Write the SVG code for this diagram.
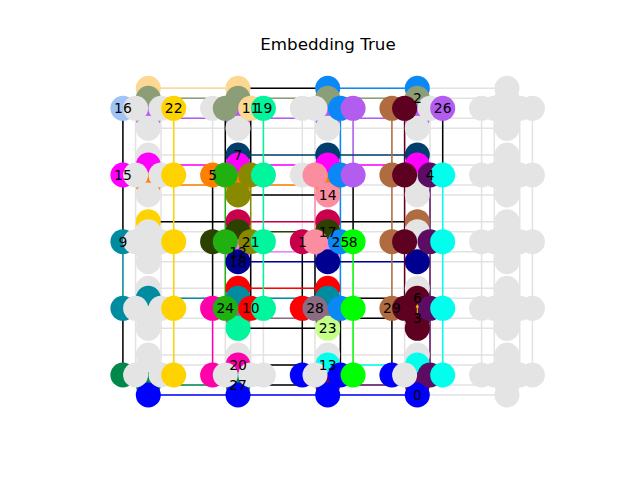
<svg xmlns="http://www.w3.org/2000/svg" width="640" height="480" viewBox="0 0 640 480">
<style>
circle{stroke:none}
.G{fill:#e4e4e4}.pe{fill:#fdd892}.gg{fill:#8c9e78}.lb{fill:#a0c4f5}.go{fill:#ffd300}.sp{fill:#00f59c}.nv{fill:#003f6d}.mg{fill:#ff00ff}.or{fill:#ff8000}.gr{fill:#20b010}.ol{fill:#898900}.pk{fill:#fa8ea0}.az{fill:#0a88f5}.pu{fill:#b25cf0}.br{fill:#b06c40}.ma{fill:#5e0020}.dp{fill:#5c0c62}.cy{fill:#00ffec}.te{fill:#008ca0}.cr{fill:#c8004c}.do{fill:#2c4000}.vi{fill:#ee82ee}.db{fill:#000090}.g8{fill:#00ff00}.rd{fill:#ff0000}.hp{fill:#ff00aa}.mv{fill:#8c6c82}.lg{fill:#c4ff88}.dg{fill:#00884a}.bl{fill:#0000ff}
.e{fill:none;stroke-width:1.5}
.lbl{font-family:"DejaVu Sans",sans-serif;font-size:13.9px;text-anchor:middle;fill:#000}
</style>
<rect width="640" height="480" fill="#fff"/>
<text x="328" y="49.5" font-family="DejaVu Sans, sans-serif" font-size="16.7" text-anchor="middle">Embedding True</text>
<g id="edges">
<path class="e" stroke="#e2e2e2" d="M148.3 88.3H507M148.3 98.3H507M148.3 118.3H507M148.3 128.3H507M148.3 155H507M148.3 165H507M148.3 185H507M148.3 195H507M148.3 221.7H507M148.3 231.7H507M148.3 251.7H507M148.3 261.7H507M148.3 288.3H507M148.3 298.3H507M148.3 318.3H507M148.3 328.3H507M148.3 355H507M148.3 365H507M148.3 385H507M148.3 395H507
M122.9 108.3V375M135.6 108.3V375M161 108.3V375M173.7 108.3V375M212.6 108.3V375M225.3 108.3V375M250.7 108.3V375M263.4 108.3V375M302.3 108.3V375M315 108.3V375M340.4 108.3V375M353.1 108.3V375M391.9 108.3V375M404.6 108.3V375M430 108.3V375M442.7 108.3V375M481.6 108.3V375M494.3 108.3V375M519.7 108.3V375M532.4 108.3V375"/>
<path class="e" stroke="#000" stroke-width="1.3" d="M238 88.3H327.7M238 195H327.7M148.3 221.7H238M327.7 221.7H417.3M327.7 298.3H417.3M327.7 318.3H417.3M238 328.3H327.7M238 365H327.7M238 385H327.7
M122.9 108.3V241.7M122.9 308.3V375M212.6 175V308.3M225.3 108.3V175M250.7 108.3V175M250.7 241.7V308.3M302.3 241.7V375M315 241.7V308.3M340.4 308.3V375M353.1 175V241.7M391.9 308.3V375M442.7 108.3V175"/>
<path class="e" stroke="#fdd892" d="M148.3 88.3H238"/>
<path class="e" stroke="#0a88f5" d="M327.7 88.3H417.3M340.4 108.3V308.3"/>
<path class="e" stroke="#8c9e78" d="M148.3 98.3H417.3"/>
<path class="e" stroke="#b25cf0" d="M148.3 118.3H417.3M353.1 108.3V175"/>
<path class="e" stroke="#003f6d" d="M238 155H417.3"/>
<path class="e" stroke="#ff00ff" d="M148.3 165H417.3"/>
<path class="e" stroke="#ff8000" d="M148.3 185H327.7"/>
<path class="e" stroke="#c8004c" d="M238 221.7H327.7"/>
<path class="e" stroke="#2c4000" d="M238 231.7H327.7"/>
<path class="e" stroke="#ee82ee" d="M238 251.7H327.7"/>
<path class="e" stroke="#000090" d="M238 261.7H417.3"/>
<path class="e" stroke="#ff0000" d="M238 288.3H327.7"/>
<path class="e" stroke="#008ca0" d="M148.3 298.3H327.7M122.9 241.7V308.3"/>
<path class="e" stroke="#8c6c82" d="M238 318.3H327.7"/>
<path class="e" stroke="#00ffec" d="M327.7 365H417.3M442.7 175V375"/>
<path class="e" stroke="#00884a" d="M148.3 385H238"/>
<path class="e" stroke="#5c0c62" d="M327.7 385H417.3M430 175V375"/>
<path class="e" stroke="#0000ff" d="M148.3 395H417.3"/>
<path class="e" stroke="#ffd300" d="M173.7 108.3V375"/>
<path class="e" stroke="#ff00aa" d="M212.6 308.3V375"/>
<path class="e" stroke="#20b010" d="M225.3 175V308.3"/>
<path class="e" stroke="#898900" d="M250.7 175V241.7"/>
<path class="e" stroke="#00f59c" d="M263.4 108.3V308.3"/>
<path class="e" stroke="#fa8ea0" d="M315 175V241.7"/>
<path class="e" stroke="#00ff00" d="M353.1 241.7V375"/>
<path class="e" stroke="#b06c40" d="M391.9 108.3V308.3"/>
<path class="e" stroke="#5e0020" d="M404.6 108.3V308.3"/>
</g>
<g id="nodes">
<!-- c0 -->
<g id="n_0_0_u2"><circle class="pe" cx="148.3" cy="88.3" r="12.5"/></g>
<g id="n_0_0_u1"><circle class="gg" cx="148.3" cy="98.3" r="12.5"/></g>
<g id="n_0_0_d1"><circle class="pu" cx="148.3" cy="118.3" r="12.5"/></g>
<g id="n_0_0_d2"><circle class="G" cx="148.3" cy="128.3" r="12.5"/></g>
<g id="node16"><circle class="lb" cx="122.9" cy="108.3" r="12.5"/></g>
<g id="n_0_0_l1"><circle class="G" cx="135.6" cy="108.3" r="12.5"/></g>
<g id="n_0_0_r1"><circle class="G" cx="161" cy="108.3" r="12.5"/></g>
<g id="node22"><circle class="go" cx="173.7" cy="108.3" r="12.5"/></g>

<g id="n_0_1_u2"><circle class="G" cx="148.3" cy="155" r="12.5"/></g>
<g id="n_0_1_u1"><circle class="mg" cx="148.3" cy="165" r="12.5"/></g>
<g id="n_0_1_d1"><circle class="or" cx="148.3" cy="185" r="12.5"/></g>
<g id="n_0_1_d2"><circle class="G" cx="148.3" cy="195" r="12.5"/></g>
<g id="node15"><circle class="mg" cx="122.9" cy="175" r="12.5"/></g>
<g id="n_0_1_l1"><circle class="G" cx="135.6" cy="175" r="12.5"/></g>
<g id="n_0_1_r1"><circle class="G" cx="161" cy="175" r="12.5"/></g>
<g id="n_0_1_r2"><circle class="go" cx="173.7" cy="175" r="12.5"/></g>

<g id="n_0_2_u2"><circle class="go" cx="148.3" cy="221.7" r="12.5"/></g>
<g id="n_0_2_u1"><circle class="G" cx="148.3" cy="231.7" r="12.5"/></g>
<g id="n_0_2_d1"><circle class="G" cx="148.3" cy="251.7" r="12.5"/></g>
<g id="n_0_2_d2"><circle class="G" cx="148.3" cy="261.7" r="12.5"/></g>
<g id="node9"><circle class="te" cx="122.9" cy="241.7" r="12.5"/></g>
<g id="n_0_2_l1"><circle class="G" cx="135.6" cy="241.7" r="12.5"/></g>
<g id="n_0_2_r1"><circle class="G" cx="161" cy="241.7" r="12.5"/></g>
<g id="n_0_2_r2"><circle class="go" cx="173.7" cy="241.7" r="12.5"/></g>

<g id="n_0_3_u2"><circle class="G" cx="148.3" cy="288.3" r="12.5"/></g>
<g id="n_0_3_u1"><circle class="te" cx="148.3" cy="298.3" r="12.5"/></g>
<g id="n_0_3_d1"><circle class="G" cx="148.3" cy="318.3" r="12.5"/></g>
<g id="n_0_3_d2"><circle class="G" cx="148.3" cy="328.3" r="12.5"/></g>
<g id="n_0_3_l2"><circle class="te" cx="122.9" cy="308.3" r="12.5"/></g>
<g id="n_0_3_l1"><circle class="G" cx="135.6" cy="308.3" r="12.5"/></g>
<g id="n_0_3_r1"><circle class="G" cx="161" cy="308.3" r="12.5"/></g>
<g id="n_0_3_r2"><circle class="go" cx="173.7" cy="308.3" r="12.5"/></g>

<g id="n_0_4_u2"><circle class="G" cx="148.3" cy="355" r="12.5"/></g>
<g id="n_0_4_u1"><circle class="G" cx="148.3" cy="365" r="12.5"/></g>
<g id="n_0_4_d1"><circle class="dg" cx="148.3" cy="385" r="12.5"/></g>
<g id="n_0_4_d2"><circle class="bl" cx="148.3" cy="395" r="12.5"/></g>
<g id="n_0_4_l2"><circle class="dg" cx="122.9" cy="375" r="12.5"/></g>
<g id="n_0_4_l1"><circle class="G" cx="135.6" cy="375" r="12.5"/></g>
<g id="n_0_4_r1"><circle class="G" cx="161" cy="375" r="12.5"/></g>
<g id="n_0_4_r2"><circle class="go" cx="173.7" cy="375" r="12.5"/></g>
<!-- c1 -->
<g id="n_1_0_u2"><circle class="pe" cx="238" cy="88.3" r="12.5"/></g>
<g id="n_1_0_u1"><circle class="gg" cx="238" cy="98.3" r="12.5"/></g>
<g id="n_1_0_d1"><circle class="pu" cx="238" cy="118.3" r="12.5"/></g>
<g id="n_1_0_d2"><circle class="G" cx="238" cy="128.3" r="12.5"/></g>
<g id="n_1_0_l2"><circle class="G" cx="212.6" cy="108.3" r="12.5"/></g>
<g id="n_1_0_l1"><circle class="gg" cx="225.3" cy="108.3" r="12.5"/></g>
<g id="node11"><circle class="pe" cx="250.7" cy="108.3" r="12.5"/></g>
<g id="node19"><circle class="sp" cx="263.4" cy="108.3" r="12.5"/></g>

<g id="node7"><circle class="nv" cx="238" cy="155" r="12.5"/></g>
<g id="n_1_1_u1"><circle class="mg" cx="238" cy="165" r="12.5"/></g>
<g id="n_1_1_d1"><circle class="or" cx="238" cy="185" r="12.5"/></g>
<g id="n_1_1_d2"><circle class="ol" cx="238" cy="195" r="12.5"/></g>
<g id="node5"><circle class="or" cx="212.6" cy="175" r="12.5"/></g>
<g id="n_1_1_l1"><circle class="gr" cx="225.3" cy="175" r="12.5"/></g>
<g id="n_1_1_r1"><circle class="ol" cx="250.7" cy="175" r="12.5"/></g>
<g id="n_1_1_r2"><circle class="sp" cx="263.4" cy="175" r="12.5"/></g>

<g id="n_1_2_u2"><circle class="cr" cx="238" cy="221.7" r="12.5"/></g>
<g id="n_1_2_u1"><circle class="do" cx="238" cy="231.7" r="12.5"/></g>
<g id="node12"><circle class="vi" cx="238" cy="251.7" r="12.5"/></g>
<g id="node18"><circle class="db" cx="238" cy="261.7" r="12.5"/></g>
<g id="n_1_2_l2"><circle class="do" cx="212.6" cy="241.7" r="12.5"/></g>
<g id="n_1_2_l1"><circle class="gr" cx="225.3" cy="241.7" r="12.5"/></g>
<g id="node21"><circle class="ol" cx="250.7" cy="241.7" r="12.5"/></g>
<g id="n_1_2_r2"><circle class="sp" cx="263.4" cy="241.7" r="12.5"/></g>

<g id="n_1_3_u2"><circle class="rd" cx="238" cy="288.3" r="12.5"/></g>
<g id="n_1_3_u1"><circle class="te" cx="238" cy="298.3" r="12.5"/></g>
<g id="n_1_3_d1"><circle class="mv" cx="238" cy="318.3" r="12.5"/></g>
<g id="n_1_3_d2"><circle class="sp" cx="238" cy="328.3" r="12.5"/></g>
<g id="n_1_3_l2"><circle class="hp" cx="212.6" cy="308.3" r="12.5"/></g>
<g id="node24"><circle class="gr" cx="225.3" cy="308.3" r="12.5"/></g>
<g id="node10"><circle class="rd" cx="250.7" cy="308.3" r="12.5"/></g>
<g id="n_1_3_r2"><circle class="sp" cx="263.4" cy="308.3" r="12.5"/></g>

<g id="n_1_4_u2"><circle class="G" cx="238" cy="355" r="12.5"/></g>
<g id="node20"><circle class="hp" cx="238" cy="365" r="12.5"/></g>
<g id="node27"><circle class="dg" cx="238" cy="385" r="12.5"/></g>
<g id="n_1_4_d2"><circle class="bl" cx="238" cy="395" r="12.5"/></g>
<g id="n_1_4_l2"><circle class="hp" cx="212.6" cy="375" r="12.5"/></g>
<g id="n_1_4_l1"><circle class="G" cx="225.3" cy="375" r="12.5"/></g>
<g id="n_1_4_r1"><circle class="G" cx="250.7" cy="375" r="12.5"/></g>
<g id="n_1_4_r2"><circle class="G" cx="263.4" cy="375" r="12.5"/></g>
<!-- c2 -->
<g id="n_2_0_u2"><circle class="az" cx="327.7" cy="88.3" r="12.5"/></g>
<g id="n_2_0_u1"><circle class="gg" cx="327.7" cy="98.3" r="12.5"/></g>
<g id="n_2_0_d1"><circle class="pu" cx="327.7" cy="118.3" r="12.5"/></g>
<g id="n_2_0_d2"><circle class="G" cx="327.7" cy="128.3" r="12.5"/></g>
<g id="n_2_0_l2"><circle class="G" cx="302.3" cy="108.3" r="12.5"/></g>
<g id="n_2_0_l1"><circle class="G" cx="315" cy="108.3" r="12.5"/></g>
<g id="n_2_0_r1"><circle class="az" cx="340.4" cy="108.3" r="12.5"/></g>
<g id="n_2_0_r2"><circle class="pu" cx="353.1" cy="108.3" r="12.5"/></g>

<g id="n_2_1_u2"><circle class="nv" cx="327.7" cy="155" r="12.5"/></g>
<g id="n_2_1_u1"><circle class="mg" cx="327.7" cy="165" r="12.5"/></g>
<g id="n_2_1_d1"><circle class="or" cx="327.7" cy="185" r="12.5"/></g>
<g id="node14"><circle class="pk" cx="327.7" cy="195" r="12.5"/></g>
<g id="n_2_1_l2"><circle class="G" cx="302.3" cy="175" r="12.5"/></g>
<g id="n_2_1_l1"><circle class="pk" cx="315" cy="175" r="12.5"/></g>
<g id="n_2_1_r1"><circle class="az" cx="340.4" cy="175" r="12.5"/></g>
<g id="n_2_1_r2"><circle class="pu" cx="353.1" cy="175" r="12.5"/></g>

<g id="n_2_2_u2"><circle class="cr" cx="327.7" cy="221.7" r="12.5"/></g>
<g id="node17"><circle class="do" cx="327.7" cy="231.7" r="12.5"/></g>
<g id="n_2_2_d1"><circle class="vi" cx="327.7" cy="251.7" r="12.5"/></g>
<g id="n_2_2_d2"><circle class="db" cx="327.7" cy="261.7" r="12.5"/></g>
<g id="node1"><circle class="cr" cx="302.3" cy="241.7" r="12.5"/></g>
<g id="n_2_2_l1"><circle class="pk" cx="315" cy="241.7" r="12.5"/></g>
<g id="node25"><circle class="az" cx="340.4" cy="241.7" r="12.5"/></g>
<g id="node8"><circle class="g8" cx="353.1" cy="241.7" r="12.5"/></g>

<g id="n_2_3_u2"><circle class="rd" cx="327.7" cy="288.3" r="12.5"/></g>
<g id="n_2_3_u1"><circle class="te" cx="327.7" cy="298.3" r="12.5"/></g>
<g id="n_2_3_d1"><circle class="mv" cx="327.7" cy="318.3" r="12.5"/></g>
<g id="node23"><circle class="lg" cx="327.7" cy="328.3" r="12.5"/></g>
<g id="n_2_3_l2"><circle class="rd" cx="302.3" cy="308.3" r="12.5"/></g>
<g id="node28"><circle class="mv" cx="315" cy="308.3" r="12.5"/></g>
<g id="n_2_3_r1"><circle class="az" cx="340.4" cy="308.3" r="12.5"/></g>
<g id="n_2_3_r2"><circle class="g8" cx="353.1" cy="308.3" r="12.5"/></g>

<g id="n_2_4_u2"><circle class="G" cx="327.7" cy="355" r="12.5"/></g>
<g id="node13"><circle class="cy" cx="327.7" cy="365" r="12.5"/></g>
<g id="n_2_4_d1"><circle class="dp" cx="327.7" cy="385" r="12.5"/></g>
<g id="n_2_4_d2"><circle class="bl" cx="327.7" cy="395" r="12.5"/></g>
<g id="n_2_4_l2"><circle class="bl" cx="302.3" cy="375" r="12.5"/></g>
<g id="n_2_4_l1"><circle class="G" cx="315" cy="375" r="12.5"/></g>
<g id="n_2_4_r1"><circle class="bl" cx="340.4" cy="375" r="12.5"/></g>
<g id="n_2_4_r2"><circle class="g8" cx="353.1" cy="375" r="12.5"/></g>
<!-- c3 -->
<g id="n_3_0_u2"><circle class="az" cx="417.3" cy="88.3" r="12.5"/></g>
<g id="node2"><circle class="gg" cx="417.3" cy="98.3" r="12.5"/></g>
<g id="n_3_0_d1"><circle class="pu" cx="417.3" cy="118.3" r="12.5"/></g>
<g id="n_3_0_d2"><circle class="G" cx="417.3" cy="128.3" r="12.5"/></g>
<g id="n_3_0_l2"><circle class="br" cx="391.9" cy="108.3" r="12.5"/></g>
<g id="n_3_0_l1"><circle class="ma" cx="404.6" cy="108.3" r="12.5"/></g>
<g id="n_3_0_r1"><circle class="G" cx="430" cy="108.3" r="12.5"/></g>
<g id="node26"><circle class="pu" cx="442.7" cy="108.3" r="12.5"/></g>

<g id="n_3_1_u2"><circle class="nv" cx="417.3" cy="155" r="12.5"/></g>
<g id="n_3_1_u1"><circle class="mg" cx="417.3" cy="165" r="12.5"/></g>
<g id="n_3_1_d1"><circle class="G" cx="417.3" cy="185" r="12.5"/></g>
<g id="n_3_1_d2"><circle class="G" cx="417.3" cy="195" r="12.5"/></g>
<g id="n_3_1_l2"><circle class="br" cx="391.9" cy="175" r="12.5"/></g>
<g id="n_3_1_l1"><circle class="ma" cx="404.6" cy="175" r="12.5"/></g>
<g id="node4"><circle class="dp" cx="430" cy="175" r="12.5"/></g>
<g id="n_3_1_r2"><circle class="cy" cx="442.7" cy="175" r="12.5"/></g>

<g id="n_3_2_u2"><circle class="br" cx="417.3" cy="221.7" r="12.5"/></g>
<g id="n_3_2_u1"><circle class="G" cx="417.3" cy="231.7" r="12.5"/></g>
<g id="n_3_2_d1"><circle class="G" cx="417.3" cy="251.7" r="12.5"/></g>
<g id="n_3_2_d2"><circle class="db" cx="417.3" cy="261.7" r="12.5"/></g>
<g id="n_3_2_l2"><circle class="br" cx="391.9" cy="241.7" r="12.5"/></g>
<g id="n_3_2_l1"><circle class="ma" cx="404.6" cy="241.7" r="12.5"/></g>
<g id="n_3_2_r1"><circle class="dp" cx="430" cy="241.7" r="12.5"/></g>
<g id="n_3_2_r2"><circle class="cy" cx="442.7" cy="241.7" r="12.5"/></g>

<g id="n_3_3_u2"><circle class="G" cx="417.3" cy="288.3" r="12.5"/></g>
<g id="node6"><circle class="ma" cx="417.3" cy="298.3" r="12.5"/></g>
<g id="node3"><circle class="ma" cx="417.3" cy="318.3" r="12.5"/></g>
<g id="n_3_3_d2"><circle class="ma" cx="417.3" cy="328.3" r="12.5"/></g>
<g id="node29"><circle class="br" cx="391.9" cy="308.3" r="12.5"/></g>
<g id="n_3_3_l1"><circle class="ma" cx="404.6" cy="308.3" r="12.5"/></g>
<g id="n_3_3_r1"><circle class="dp" cx="430" cy="308.3" r="12.5"/></g>
<g id="n_3_3_r2"><circle class="cy" cx="442.7" cy="308.3" r="12.5"/></g>

<g id="n_3_4_u2"><circle class="G" cx="417.3" cy="355" r="12.5"/></g>
<g id="n_3_4_u1"><circle class="cy" cx="417.3" cy="365" r="12.5"/></g>
<g id="n_3_4_d1"><circle class="dp" cx="417.3" cy="385" r="12.5"/></g>
<g id="node0"><circle class="bl" cx="417.3" cy="395" r="12.5"/></g>
<g id="n_3_4_l2"><circle class="bl" cx="391.9" cy="375" r="12.5"/></g>
<g id="n_3_4_l1"><circle class="G" cx="404.6" cy="375" r="12.5"/></g>
<g id="n_3_4_r1"><circle class="dp" cx="430" cy="375" r="12.5"/></g>
<g id="n_3_4_r2"><circle class="cy" cx="442.7" cy="375" r="12.5"/></g>
<!-- c4 (unused) -->
<g id="n_4_0" class="G"><circle cx="507" cy="88.3" r="12.5"/><circle cx="507" cy="98.3" r="12.5"/><circle cx="507" cy="118.3" r="12.5"/><circle cx="507" cy="128.3" r="12.5"/><circle cx="481.6" cy="108.3" r="12.5"/><circle cx="494.3" cy="108.3" r="12.5"/><circle cx="519.7" cy="108.3" r="12.5"/><circle cx="532.4" cy="108.3" r="12.5"/></g>
<g id="n_4_1" class="G"><circle cx="507" cy="155" r="12.5"/><circle cx="507" cy="165" r="12.5"/><circle cx="507" cy="185" r="12.5"/><circle cx="507" cy="195" r="12.5"/><circle cx="481.6" cy="175" r="12.5"/><circle cx="494.3" cy="175" r="12.5"/><circle cx="519.7" cy="175" r="12.5"/><circle cx="532.4" cy="175" r="12.5"/></g>
<g id="n_4_2" class="G"><circle cx="507" cy="221.7" r="12.5"/><circle cx="507" cy="231.7" r="12.5"/><circle cx="507" cy="251.7" r="12.5"/><circle cx="507" cy="261.7" r="12.5"/><circle cx="481.6" cy="241.7" r="12.5"/><circle cx="494.3" cy="241.7" r="12.5"/><circle cx="519.7" cy="241.7" r="12.5"/><circle cx="532.4" cy="241.7" r="12.5"/></g>
<g id="n_4_3" class="G"><circle cx="507" cy="288.3" r="12.5"/><circle cx="507" cy="298.3" r="12.5"/><circle cx="507" cy="318.3" r="12.5"/><circle cx="507" cy="328.3" r="12.5"/><circle cx="481.6" cy="308.3" r="12.5"/><circle cx="494.3" cy="308.3" r="12.5"/><circle cx="519.7" cy="308.3" r="12.5"/><circle cx="532.4" cy="308.3" r="12.5"/></g>
<g id="n_4_4" class="G"><circle cx="507" cy="355" r="12.5"/><circle cx="507" cy="365" r="12.5"/><circle cx="507" cy="385" r="12.5"/><circle cx="507" cy="395" r="12.5"/><circle cx="481.6" cy="375" r="12.5"/><circle cx="494.3" cy="375" r="12.5"/><circle cx="519.7" cy="375" r="12.5"/><circle cx="532.4" cy="375" r="12.5"/></g>
</g>
<g id="mark">
<line x1="417.3" y1="306" x2="417.3" y2="314" stroke="#e8d000" stroke-width="1"/>
<polygon points="415.6,307.5 419,307.5 417.3,304" fill="#e8d000"/>
</g>
<g id="labels" class="lbl">
<text x="417.3" y="400">0</text>
<text x="302.3" y="246.7">1</text>
<text x="417.3" y="103.3">2</text>
<text x="417.3" y="323.3">3</text>
<text x="430" y="180">4</text>
<text x="212.6" y="180">5</text>
<text x="417.3" y="303.3">6</text>
<text x="238" y="160">7</text>
<text x="353.1" y="246.7">8</text>
<text x="122.9" y="246.7">9</text>
<text x="250.7" y="313.3">10</text>
<text x="250.7" y="113.3">11</text>
<text x="238" y="256.7">12</text>
<text x="327.7" y="370">13</text>
<text x="327.7" y="200">14</text>
<text x="122.9" y="180">15</text>
<text x="122.9" y="113.3">16</text>
<text x="327.7" y="236.7">17</text>
<text x="238" y="266.7">18</text>
<text x="263.4" y="113.3">19</text>
<text x="238" y="370">20</text>
<text x="250.7" y="246.7">21</text>
<text x="173.7" y="113.3">22</text>
<text x="327.7" y="333.3">23</text>
<text x="225.3" y="313.3">24</text>
<text x="340.4" y="246.7">25</text>
<text x="442.7" y="113.3">26</text>
<text x="238" y="390">27</text>
<text x="315" y="313.3">28</text>
<text x="391.9" y="313.3">29</text>
</g>
</svg>
